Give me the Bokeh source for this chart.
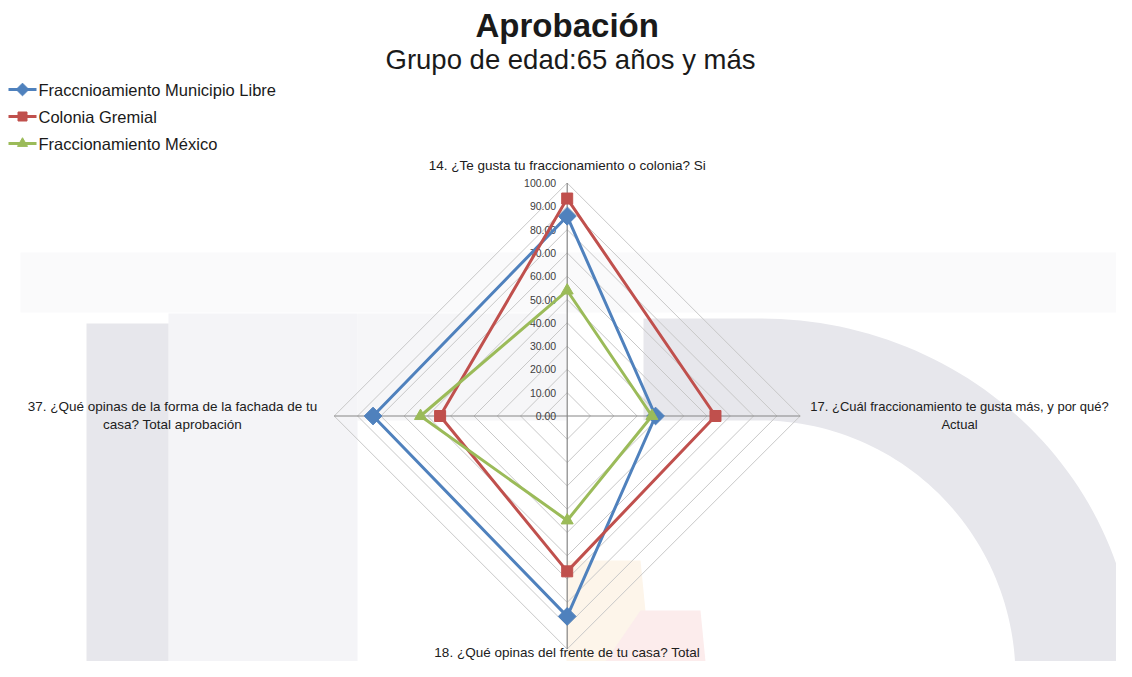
import numpy as np
from bokeh.plotting import figure
from bokeh.models import Range1d
from bokeh.core.properties import value
from bokeh.embed import file_html
from bokeh.resources import INLINE

# ---- data ----
categories = [
    "14. ¿Te gusta tu fraccionamiento o colonia? Si",
    "17. ¿Cuál fraccionamiento te gusta más, y por qué?\nActual",
    "18. ¿Qué opinas del frente de tu casa? Total",
    "37. ¿Qué opinas de la forma de la fachada de tu\ncasa? Total aprobación",
]
series_names = ["Fraccnioamiento Municipio Libre", "Colonia Gremial", "Fraccionamiento México"]
municipio_libre = [85.71, 37.93, 86.00, 83.33]
colonia_gremial = [93.33, 63.64, 66.67, 54.55]
fracc_mexico = [53.85, 36.36, 44.83, 62.96]
ticks = [0, 10, 20, 30, 40, 50, 60, 70, 80, 90, 100]

colors = ["#4F81BD", "#C0504D", "#9BBB59"]
FONT = "Liberation Sans"

W, H = 1116, 661
p = figure(width=W, height=H, output_backend="svg", toolbar_location=None,
           x_range=Range1d(0, W), y_range=Range1d(H, 0),
           min_border=0, outline_line_color=None)
p.axis.visible = False
p.grid.visible = False
p.background_fill_color = "white"
p.border_fill_color = "white"

# ---- faint background watermark ----
wm = "#e7e7ec"
p.quad(left=[20], right=[1125], top=[252], bottom=[312], fill_color="#fafafb", line_color=None)
p.quad(left=[168], right=[357], top=[313], bottom=[H], fill_color="#f4f4f7", line_color=None)
p.quad(left=[357], right=[566], top=[313], bottom=[420], fill_color="#f6f6f8", line_color=None)
p.quad(left=[86], right=[168], top=[323], bottom=[H], fill_color=wm, line_color=None)
th = np.linspace(0, np.pi / 2, 60)
ecx, ecy = 760, 677
ox = ecx + 375 * np.cos(th); oy = ecy - 359 * np.sin(th)
ix = ecx + 255 * np.cos(th[::-1]); iy = ecy - 257 * np.sin(th[::-1])
arch_x = list(ox) + [643, 643] + list(ix)
arch_y = list(oy) + [318, 420] + list(iy)
p.patch(arch_x, arch_y, fill_color=wm, line_color=None)
p.patch([566, 640, 650, 630, 566], [560, 560, H, H, H], fill_color="#fdf5ea", line_color=None)
p.patch([605, 640, 700, 705], [H, 610, 610, H], fill_color="#fcecec", line_color=None)

# ---- radar geometry ----
cx, cy, R = 566.7, 415.5, 233.0
n = len(categories)
ang = np.pi / 2 - np.arange(n) * 2 * np.pi / n

def pt(vals):
    v = np.asarray(vals, float) / 100.0 * R
    return cx + v * np.cos(ang), cy - v * np.sin(ang)

# grid rings
for t in ticks[1:]:
    gx, gy = pt([t] * n)
    p.patch(list(gx), list(gy), fill_color=None, line_color="#c8c8c8", line_width=1)
# spokes
sx, sy = pt([100] * n)
p.multi_line([[cx, x] for x in sx], [[cy, y] for y in sy], line_color="#868686", line_width=1.2)

# tick labels
p.text(x=[cx - 11] * len(ticks), y=[cy - t / 100 * R for t in ticks],
       text=["%.2f" % t for t in ticks], text_align="right", text_baseline="middle",
       text_font=value(FONT), text_font_size="10.5px", text_color="#404040")

# series
series = [municipio_libre, colonia_gremial, fracc_mexico]
for vals, col, k in zip(series, colors, range(3)):
    x, y = pt(vals)
    p.line(list(x) + [x[0]], list(y) + [y[0]], line_color=col, line_width=3)
    if k == 0:
        p.scatter(x, y, marker="square", size=12.5, angle=np.pi / 4, fill_color=col, line_color=col)
    elif k == 1:
        p.scatter(x, y, marker="square", size=11, fill_color=col, line_color=col)
    else:
        p.scatter(x, y, marker="triangle", size=12, fill_color=col, line_color=col)

# category labels
lab_fs = "13.5px"
p.text(x=[cx], y=[165], text=[categories[0]], text_align="center", text_baseline="middle",
       text_font=value(FONT), text_font_size=lab_fs, text_color="#202020")
p.text(x=[959], y=[415], text=[categories[1]], text_align="center", text_baseline="middle",
       text_font=value(FONT), text_font_size="13px", text_color="#202020", text_line_height=1.2)
p.text(x=[cx], y=[659], text=[categories[2]], text_align="center", text_baseline="bottom",
       text_font=value(FONT), text_font_size=lab_fs, text_color="#202020")
p.text(x=[172], y=[415], text=[categories[3]], text_align="center", text_baseline="middle",
       text_font=value(FONT), text_font_size=lab_fs, text_color="#202020", text_line_height=1.2)

# titles
p.text(x=[cx], y=[25], text=["Aprobación"], text_align="center", text_baseline="middle",
       text_font=value(FONT), text_font_style="bold", text_font_size="33px", text_color="#1a1a1a")
p.text(x=[570], y=[59], text=["Grupo de edad:65 años y más"], text_align="center", text_baseline="middle",
       text_font=value(FONT), text_font_size="27.5px", text_color="#1a1a1a")

# legend
ly = [89, 116, 143]
mk = ["square", "square", "triangle"]
msz = [9, 9, 10]
mang = [np.pi / 4, 0, 0]
for i in range(3):
    p.line([8, 36], [ly[i], ly[i]], line_color=colors[i], line_width=3)
    p.scatter([22], [ly[i]], marker=mk[i], size=msz[i], angle=mang[i],
              fill_color=colors[i], line_color=colors[i])
p.text(x=[38] * 3, y=ly, text=series_names, text_align="left", text_baseline="middle",
       text_font=value(FONT), text_font_size="16.5px", text_color="#1a1a1a")

open("out.html", "w").write(file_html(p, INLINE))
